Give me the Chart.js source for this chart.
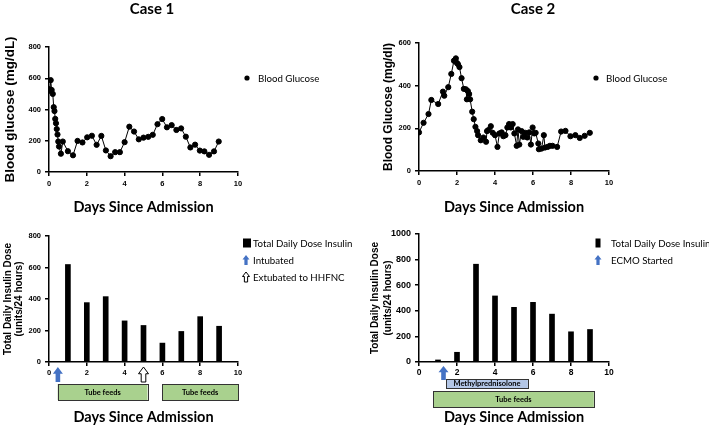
<!DOCTYPE html>
<html>
<head>
<meta charset="utf-8">
<script src="https://cdn.jsdelivr.net/npm/chart.js@4.4.1/dist/chart.umd.min.js"></script>
<style>
  body { margin: 0; background: #fff; }
  #wrap { position: relative; width: 709px; height: 425px; overflow: hidden; }
  canvas { position: absolute; }
</style>
</head>
<body>
<div id="wrap">
  <canvas id="c1" width="355" height="215" style="left:0;top:0"></canvas>
  <canvas id="c2" width="354" height="215" style="left:355px;top:0"></canvas>
  <canvas id="c3" width="355" height="210" style="left:0;top:215px"></canvas>
  <canvas id="c4" width="354" height="210" style="left:355px;top:215px"></canvas>
</div>
<script>
// blood glucose, case 1 (days since admission / mg/dL)
const case1Days = [0, 0.05, 0.09, 0.14, 0.2, 0.25, 0.29, 0.33, 0.37, 0.41, 0.45, 0.49, 0.53, 0.63, 0.73,
  1.0, 1.27, 1.51, 1.77, 2.02, 2.27, 2.52, 2.77, 3.01, 3.26, 3.5, 3.75, 4.0, 4.25, 4.5, 4.75, 5.0,
  5.25, 5.49, 5.74, 5.99, 6.24, 6.49, 6.74, 6.99, 7.24, 7.48, 7.73, 7.98, 8.22, 8.47, 8.73, 8.98];
const case1Glucose = [530, 520, 588, 525, 500, 415, 390, 340, 312, 275, 240, 195, 163, 117, 195,
  133, 107, 199, 189, 222, 232, 174, 231, 138, 101, 127, 127, 191, 290, 259, 209, 220,
  225, 238, 306, 339, 286, 300, 269, 279, 226, 157, 175, 137, 132, 110, 132, 195];

// blood glucose, case 2 (days since admission / mg/dl)
const case2Days = [0, 0.24, 0.5, 0.65, 1.01, 1.26, 1.33, 1.54, 1.7, 1.84, 1.94, 1.99, 2.05, 2.13, 2.24,
  2.36, 2.47, 2.52, 2.57, 2.64, 2.69, 2.8, 2.88, 2.97, 3.06, 3.11, 3.25, 3.39, 3.53, 3.58,
  3.65, 3.78, 3.88, 4.0, 4.13, 4.23, 4.35, 4.44, 4.55, 4.65, 4.74, 4.83, 4.93, 5.02, 5.14,
  5.21, 5.28, 5.4, 5.49, 5.59, 5.7, 5.8, 5.89, 5.98, 6.07, 6.14, 6.28, 6.31, 6.45, 6.57,
  6.63, 6.77, 6.89, 7.03, 7.27, 7.48, 7.71, 7.97, 8.23, 8.46, 8.72, 8.99];
const case2Glucose = [181, 226, 267, 333, 314, 372, 353, 393, 455, 517, 528, 507, 501, 487, 435,
  385, 383, 336, 375, 361, 336, 278, 243, 207, 187, 168, 144, 157, 137, 187,
  192, 210, 179, 168, 113, 176, 181, 163, 168, 204, 220, 204, 220, 176, 118,
  195, 124, 187, 160, 179, 157, 181, 124, 204, 176, 179, 129, 102, 105, 168,
  110, 113, 118, 118, 113, 185, 188, 163, 168, 155, 165, 179];

// total daily insulin dose (units/24 hours)
const insulinDays = [1, 2, 3, 4, 5, 6, 7, 8, 9];
const case1Insulin = [619, 377, 415, 261, 232, 120, 194, 288, 227];
const case2Insulin = [16, 76, 764, 516, 427, 466, 374, 236, 254];

// events, in days
const case1Intubated = [0.47];
const case1Extubated = [5.0];
const case1TubeFeeds = [[0.46, 5.21], [5.99, 10]];
const case2EcmoStarted = [1.29];
const case2Methylpred = [[1.42, 5.73]];
const case2TubeFeeds = [[0.74, 9.2]];

const xTicks = [0, 2, 4, 6, 8, 10];

Chart.defaults.font.family = '"Liberation Sans", Arial, sans-serif';
Chart.defaults.color = '#000';

const BLUE = '#4472c4';
const LABEL_FONT = 'Lato, "Open Sans", sans-serif';

function upArrow(ctx, cx, top, w, h, fill) {
  const head = h * 0.45, shaft = w * 0.46;
  ctx.beginPath();
  ctx.moveTo(cx, top);
  ctx.lineTo(cx + w / 2, top + head);
  ctx.lineTo(cx + shaft / 2, top + head);
  ctx.lineTo(cx + shaft / 2, top + h);
  ctx.lineTo(cx - shaft / 2, top + h);
  ctx.lineTo(cx - shaft / 2, top + head);
  ctx.lineTo(cx - w / 2, top + head);
  ctx.closePath();
  ctx.fillStyle = fill;
  ctx.fill();
  if (fill === '#fff') {
    ctx.strokeStyle = '#000';
    ctx.lineWidth = 1;
    ctx.stroke();
  }
}

// titles, legends, arrows and bars under the axis
const decor = {
  id: 'decor',
  afterDraw(chart, args, opts) {
    const { ctx, chartArea } = chart;
    const x = chart.scales.x;
    ctx.save();
    ctx.textBaseline = 'middle';
    if (opts.title) {
      ctx.font = 'bold 15px ' + LABEL_FONT;
      ctx.textAlign = 'center';
      ctx.fillStyle = '#000';
      ctx.fillText(opts.title, opts.titleX, opts.titleY);
    }
    (opts.boxes || []).forEach(b => {
      b.spans.forEach(([from, to]) => {
        const x0 = x.getPixelForValue(from), x1 = x.getPixelForValue(to);
        const y0 = chartArea.bottom + b.top;
        ctx.fillStyle = b.fill;
        ctx.fillRect(x0, y0, x1 - x0, b.height);
        ctx.strokeStyle = '#333';
        ctx.lineWidth = 1;
        ctx.strokeRect(Math.round(x0) + 0.5, Math.round(y0) + 0.5, Math.round(x1 - x0), Math.round(b.height));
        ctx.fillStyle = '#000';
        ctx.font = 'bold 7.5px ' + LABEL_FONT;
        ctx.textAlign = 'center';
        ctx.fillText(b.label, (x0 + x1) / 2, y0 + b.height / 2 + 0.5);
      });
    });
    (opts.arrows || []).forEach(a => {
      a.days.forEach(d => {
        upArrow(ctx, x.getPixelForValue(d), chartArea.bottom + a.top, 10, a.height, a.fill);
      });
    });
    ctx.textAlign = 'left';
    ctx.font = '9.7px ' + LABEL_FONT;
    (opts.legend || []).forEach(it => {
      ctx.fillStyle = '#000';
      if (it.type === 'dot') {
        ctx.beginPath();
        ctx.arc(it.x, it.y, 2.6, 0, Math.PI * 2);
        ctx.fill();
      } else if (it.type === 'square') {
        ctx.fillRect(it.x - it.w / 2, it.y - 4.5, it.w, 9);
      } else {
        upArrow(ctx, it.x, it.y - 5, 7, 10, it.type === 'blue' ? BLUE : '#fff');
      }
      ctx.fillStyle = '#000';
      ctx.fillText(it.label, it.textX, it.y + 0.5);
    });
    ctx.restore();
  }
};

function xScale(height, labelSize, pad) {
  return {
    type: 'linear', min: 0, max: 10, offset: false,
    afterBuildTicks: s => { s.ticks = xTicks.map(v => ({ value: v })); },
    afterFit: s => { s.height = height; },
    border: { color: '#000', width: 1.5 },
    grid: { drawOnChartArea: false, offset: false, color: '#000', lineWidth: 1.5, tickLength: 4 },
    ticks: { font: { size: labelSize, weight: 'bold' }, padding: pad, maxRotation: 0, callback: v => String(v) },
    title: { display: true, text: 'Days Since Admission', font: { family: LABEL_FONT, size: 14.5, weight: 'bold', lineHeight: 1.1 }, padding: 0 }
  };
}

function yScale(width, max, step, title, titleSize, titleLH, labelSize) {
  return {
    min: 0, max: max,
    afterFit: s => { s.width = width; },
    border: { color: '#000', width: 1.5 },
    grid: { drawOnChartArea: false, color: '#000', lineWidth: 1.5, tickLength: 4 },
    ticks: { stepSize: step, font: { size: labelSize, weight: 'bold' }, padding: 4, callback: v => String(v) },
    title: { display: true, text: title, font: { size: titleSize, weight: 'bold', lineHeight: titleLH }, padding: { top: 2, bottom: 0 } }
  };
}

function glucoseChart(id, days, values, pad, yOpts, decorOpts) {
  return new Chart(document.getElementById(id), {
    type: 'line',
    data: {
      datasets: [{
        label: 'Blood Glucose',
        data: days.map((d, i) => ({ x: d, y: values[i] })),
        borderColor: '#000', backgroundColor: '#000', borderWidth: 1,
        pointRadius: 2.6, pointHoverRadius: 2.6, tension: 0
      }]
    },
    options: {
      responsive: false, animation: false,
      layout: { padding: pad },
      plugins: { legend: { display: false }, tooltip: { enabled: false }, decor: decorOpts },
      scales: { x: xScale(pad.xHeight, 7.5, 3), y: yOpts }
    },
    plugins: [decor]
  });
}

function insulinChart(id, values, pad, yOpts, labelSize, decorOpts) {
  return new Chart(document.getElementById(id), {
    type: 'bar',
    data: {
      datasets: [{
        label: 'Total Daily Dose Insulin',
        data: insulinDays.map((d, i) => ({ x: d, y: values[i] })),
        backgroundColor: '#000', barThickness: 5
      }]
    },
    options: {
      responsive: false, animation: false,
      layout: { padding: pad },
      plugins: { legend: { display: false }, tooltip: { enabled: false }, decor: decorOpts },
      scales: { x: xScale(pad.xHeight, labelSize, 2), y: yOpts }
    },
    plugins: [decor]
  });
}

glucoseChart('c1', case1Days, case1Glucose,
  { left: 0, top: 47, right: 355 - 238, bottom: 0, xHeight: 43 },
  yScale(49, 800, 200, 'Blood glucose (mg/dL)', 13.5, 1.2, 7.5),
  { title: 'Case 1', titleX: 152, titleY: 9,
    legend: [{ type: 'dot', x: 247, y: 78, textX: 258, label: 'Blood Glucose' }] });

glucoseChart('c2', case2Days, case2Glucose,
  { left: 24, top: 43, right: 354 - 254, bottom: 0, xHeight: 44 },
  yScale(40, 600, 200, 'Blood Glucose (mg/dl)', 12, 1.2, 7.5),
  { title: 'Case 2', titleX: 178, titleY: 9,
    legend: [{ type: 'dot', x: 241, y: 78, textX: 251, label: 'Blood Glucose' }] });

insulinChart('c3', case1Insulin,
  { left: 0, top: 21, right: 355 - 238, bottom: 0, xHeight: 63 },
  yScale(49, 800, 200, ['Total Daily Insulin Dose', '(units/24 hours)'], 10, 1.15, 7.5), 7.5,
  { boxes: [{ spans: case1TubeFeeds, top: 22, height: 16, fill: '#a9d18e', label: 'Tube feeds' }],
    arrows: [{ days: case1Intubated, top: 5, height: 15, fill: BLUE },
             { days: case1Extubated, top: 5, height: 15, fill: '#fff' }],
    legend: [{ type: 'square', w: 8, x: 247, y: 28, textX: 253, label: 'Total Daily Dose Insulin' },
             { type: 'blue', x: 246, y: 45, textX: 253, label: 'Intubated' },
             { type: 'white', x: 246, y: 62, textX: 253, label: 'Extubated to HHFNC' }] });

insulinChart('c4', case2Insulin,
  { left: 12, top: 19, right: 354 - 254, bottom: 0, xHeight: 63 },
  yScale(52, 1000, 200, ['Total Daily Insulin Dose', '(units/24 hours)'], 10, 1.25, 9), 8.5,
  { boxes: [{ spans: case2Methylpred, top: 17, height: 9, fill: '#b4c7e7', label: 'Methylprednisolone' },
            { spans: case2TubeFeeds, top: 29, height: 16, fill: '#a9d18e', label: 'Tube feeds' }],
    arrows: [{ days: case2EcmoStarted, top: 4, height: 14, fill: BLUE }],
    legend: [{ type: 'square', w: 5, x: 243, y: 28, textX: 256, label: 'Total Daily Dose Insulin' },
             { type: 'blue', x: 243, y: 45, textX: 256, label: 'ECMO Started' }] });
</script>
</body>
</html>
